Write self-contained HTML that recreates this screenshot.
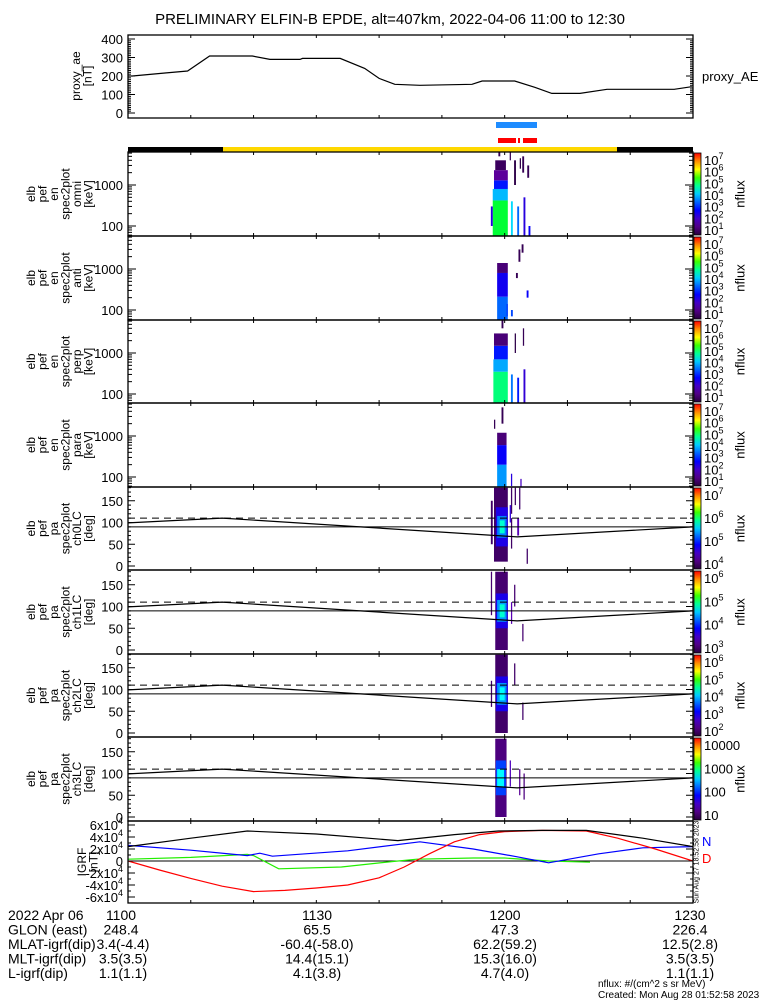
<!DOCTYPE html>
<html><head><meta charset="utf-8"><style>
html,body{margin:0;padding:0;background:#fff;}
svg{display:block;font-family:"Liberation Sans",sans-serif;}
</style></head><body>
<svg id="c" width="775" height="1000" viewBox="0 0 775 1000" xmlns="http://www.w3.org/2000/svg">
<rect x="0" y="0" width="775" height="1000" fill="#fff"/>
<text x="390" y="24" font-size="15" text-anchor="middle">PRELIMINARY ELFIN-B EPDE, alt=407km, 2022-04-06 11:00 to 12:30</text>
</svg>
<script>
// ---- data ----
const aeT=[0,0.7,5.9,9.5,13,19.8,22.6,27.4,27.8,33.8,37.7,40,42.5,46.5,54.8,56.4,61.6,64.8,67.5,72,76.3,87,89.8];
const aeV=[200,200,216,227,308,308,290,290,295,295,241,187,155,150,155,173,173,139,106,106,128,128,142];
const bkT=[0,10,19,30,43,52,59,66,73,82,90];
const bkV=[2.4,3.8,5.0,4.5,3.4,4.4,5.0,5.1,5.1,3.8,2.4];
const rdT=[0,5,10,15,20,25,30,35,40,44,48,52,56,60,66,73,78,84,90];
const rdV=[0,-1.5,-2.9,-4.2,-5.1,-4.9,-4.5,-4.0,-2.8,-1.0,1.2,3.2,4.4,4.9,5.1,5.0,3.8,2.0,0];
const blT=[0,10,19,21,23,35,46.5,55,62,67,75,82,90];
const blV=[2.6,1.8,0.9,1.3,0.8,1.7,3.2,2.0,0.7,-0.3,1.2,2.2,2.4];
const gnT=[0,10,19,20,24,34,42,46,55,60,67,73.6];
const gnV=[0.3,0.6,1.1,0.9,-1.3,-1.0,-0.1,0.3,0.5,0.5,0,-0.2];
const lcT=[0,15,62,90];
const lcV=[99,110,67,90];
const dashPA=110, flatPA=90;
// spectrogram cells: [t0,t1,low,high,logFlux]
const omniCells=[[58.1,60.5,55,420,5.0],[58.1,60.5,420,800,4.0],[58.3,60.5,800,1300,3.0],[58.3,60.5,1300,2300,1.8],[58.5,60.2,2300,4000,1.3],[61,61.3,55,400,4.2],[62,62.3,55,300,3.5],[63,63.3,55,500,2.5],[63.6,63.9,1500,3000,1.2],[57.8,58.1,100,300,2.5],[61.5,61.8,1000,4000,1.1],[62.8,63.1,2000,5000,1.2],[59,59.3,5000,7000,1.2],[63.8,64.1,55,100,2.8],[60.8,61,4000,7000,1.2],[62.4,62.6,2500,4500,1.1]];
const antiCells=[[58.8,60.5,800,1400,1.5],[58.8,60.5,210,800,2.7],[58.8,60.5,55,210,3.5],[61,61.3,70,100,3.3],[62.2,62.5,1500,3000,1.2],[62.7,63,2500,4000,1.2],[61.8,62.1,600,800,1.2],[63.5,63.8,200,300,2.8],[60.3,60.5,70,140,3.2]];
const perpCells=[[58.2,60.5,55,350,4.8],[58.2,60.5,350,700,3.9],[58.3,60.5,700,1500,3.0],[58.3,60.5,1500,3000,1.5],[61,61.3,55,300,3.6],[62,62.3,55,250,3.0],[63,63.3,60,400,2.4],[61.6,61.8,1000,3000,1.1],[62.9,63.1,1500,4000,1.2],[59.5,59.8,4000,7000,1.2]];
const paraCells=[[58.8,60.3,55,200,3.8],[58.8,60.3,200,600,2.8],[58.8,60.3,600,1200,1.5],[59.5,59.8,2000,5000,1.2],[58.3,58.5,1500,2500,1.2],[61,61.2,60,120,2.5],[62.5,62.7,55,90,2.2]];
const pa0Cells=[[58.3,60.5,10,180,3.9],[58.6,60.5,45,135,4.6],[58.8,60.3,65,115,5.2],[59.2,60.0,75,105,5.7],[61,61.2,120,180,3.9],[61.6,61.8,140,180,3.9],[62.3,62.5,130,180,3.9],[61,61.2,40,110,3.9],[62,62.3,70,110,4.3],[63.5,63.7,5,40,3.9],[57.8,58.1,50,150,3.9],[60.8,61,100,140,4.5]];
const pa1Cells=[[58.5,60.5,0,180,2.8],[58.6,60.5,50,130,3.6],[58.8,60.3,65,115,4.4],[59.2,60,75,105,4.9],[57.8,58,80,180,2.8],[61.5,61.7,100,150,2.8],[62.8,63,20,60,2.8],[61,61.2,60,110,3.2]];
const pa2Cells=[[58.5,60.5,0,180,2.0],[58.6,60.5,50,130,3.0],[58.8,60.3,65,115,3.9],[59.2,60,75,105,4.4],[57.8,58,60,120,2.0],[61.5,61.7,110,160,2.0],[62.8,63,30,70,2.0]];
const pa3Cells=[[58.5,60.3,0,180,1.3],[58.6,60.2,50,130,2.2],[58.8,59.9,70,110,2.8],[60.8,61,70,130,1.6],[62.3,62.5,50,110,1.4],[63,63.2,40,100,1.3]];
// footer
const ftLabels=['2022 Apr 06','GLON (east)','MLAT-igrf(dip)','MLT-igrf(dip)','L-igrf(dip)'];
const ftTimes=['1100','1130','1200','1230'];
const ftVals=[['248.4','65.5','47.3','226.4'],['3.4(-4.4)','-60.4(-58.0)','62.2(59.2)','12.5(2.8)'],['3.5(3.5)','14.4(15.1)','15.3(16.0)','3.5(3.5)'],['1.1(1.1)','4.1(3.8)','4.7(4.0)','1.1(1.1)']];

// ---- helpers ----
const svg=document.getElementById('c');
const NS='http://www.w3.org/2000/svg';
const X0=128,X1=693;
const tx=t=>X0+t*(X1-X0)/90;
function mk(tag,at,parent){const e=document.createElementNS(NS,tag);for(const k in at)e.setAttribute(k,at[k]);(parent||svg).appendChild(e);return e;}
function cmap(f){f=Math.max(0,Math.min(1,f));
 const s=[[0,40,0,60],[0.15,100,0,170],[0.3,0,0,255],[0.45,0,150,255],[0.55,0,255,255],[0.67,0,255,0],[0.8,255,255,0],[0.9,255,140,0],[1,255,0,0]];
 for(let i=1;i<s.length;i++){if(f<=s[i][0]){const a=s[i-1],b=s[i],u=(f-a[0])/(b[0]-a[0]);return `rgb(${Math.round(a[1]+u*(b[1]-a[1]))},${Math.round(a[2]+u*(b[2]-a[2]))},${Math.round(a[3]+u*(b[3]-a[3]))})`;}}return 'red';}
function poly(T,V,fx,fy,color,name,dash,parent){
 let d='';for(let i=0;i<T.length;i++)d+=(i?'L':'M')+fx(T[i]).toFixed(1)+','+fy(V[i]).toFixed(1);
 const p=mk('path',{d:d,fill:'none',stroke:color,'stroke-width':1.2},parent);
 if(dash)p.setAttribute('stroke-dasharray',dash);
 
 return p;}
function rotLabel(lines,x0,cy,name){
 const g=mk('g',{});
 
 
 lines.forEach((s,i)=>{const x=x0+i*11.5;mk('text',{x:x,y:cy,'font-size':12,'text-anchor':'middle',transform:`rotate(-90 ${x} ${cy})`,'dominant-baseline':'central'},g).textContent=s;});}
function box(top,bot,name){const r=mk('rect',{x:X0,y:top,width:X1-X0,height:bot-top,fill:'none',stroke:'#000','stroke-width':1.3});
 
 
 for(let t=10;t<90;t+=10){mk('line',{x1:tx(t),x2:tx(t),y1:bot,y2:bot-3,stroke:'#000'});mk('line',{x1:tx(t),x2:tx(t),y1:top,y2:top+3,stroke:'#000'});}}
function ytick(y,len){mk('line',{x1:X0,x2:X0+len,y1:y,y2:y,stroke:'#000'});mk('line',{x1:X1,x2:X1-len,y1:y,y2:y,stroke:'#000'});}

// ---- top AE panel ----
const aeY=v=>113-v*0.185;
for(let v=0;v<=400;v+=10)ytick(aeY(v),v%100?3:7);
[0,100,200,300,400].forEach(v=>{const t=mk('text',{x:123,y:aeY(v)+5,'font-size':13,'text-anchor':'end'});t.textContent=v;});
box(35,118,'proxy-ae-panel');
poly(aeT,aeV,tx,aeY,'#000','proxy-ae-line');
rotLabel(['proxy_ae','[nT]'],76,76,'ae-y-axis-title');
const pae=mk('text',{x:702,y:81,'font-size':13});pae.textContent='proxy_AE';



// bars
const bb=mk('rect',{x:496,y:122,width:41,height:6,fill:'#1e8cff'});


[[498,516],[518,520],[523,537]].forEach(s=>{const r=mk('rect',{x:s[0],y:138,width:s[1]-s[0],height:5,fill:'#ff0000'});});
const k1=mk('rect',{x:128,y:147,width:95,height:5,fill:'#000'});
const yb=mk('rect',{x:223,y:147,width:394,height:5,fill:'#ffd800'});
const k2=mk('rect',{x:617,y:147,width:76,height:5,fill:'#000'});

// ---- spectrogram panels ----
const tops=[152,236,320,403,487,570,654,737,821];
const panels=[
 {type:'en',cells:omniCells,nm:'omni',min:1,max:7.2,cb:['7','6','5','4','3','2','1']},
 {type:'en',cells:antiCells,nm:'anti',min:1,max:7.2,cb:['7','6','5','4','3','2','1']},
 {type:'en',cells:perpCells,nm:'perp',min:1,max:7.2,cb:['7','6','5','4','3','2','1']},
 {type:'en',cells:paraCells,nm:'para',min:1,max:7.2,cb:['7','6','5','4','3','2','1']},
 {type:'pa',cells:pa0Cells,nm:'ch0LC',min:3.7,max:7.2,cb:['7','6','5','4']},
 {type:'pa',cells:pa1Cells,nm:'ch1LC',min:2.5,max:6.7,cb:['6','5','4','3']},
 {type:'pa',cells:pa2Cells,nm:'ch2LC',min:1.7,max:6.6,cb:['6','5','4','3','2']},
 {type:'pa',cells:pa3Cells,nm:'ch3LC',min:1,max:4.3,cb:['10000','1000','100','10'],plain:true}];
const defs=mk('defs',{});
panels.forEach((p,i)=>{
 const top=tops[i],bot=tops[i+1];
 const cp=mk('clipPath',{id:'cp'+i},defs);mk('rect',{x:X0,y:top,width:X1-X0,height:bot-top},cp);
 const g=mk('g',{'clip-path':`url(#cp${i})`});
 
 
 const fy=p.type==='en'?(e=>top+33-(Math.log10(e)-3)*41):(a=>bot-4-a*0.435);
 p.cells.forEach(c=>{const y1=fy(c[3]),y2=fy(c[2]);
  const r=mk('rect',{x:tx(c[0]),y:y1,width:tx(c[1])-tx(c[0]),height:y2-y1,fill:cmap((c[4]-p.min)/(p.max-p.min))},g);
  
  });
 if(p.type==='en'){
  for(let d=1;d<=3;d++)for(let m=1;m<10;m++){const y=fy(m*Math.pow(10,d));if(y>top&&y<bot)ytick(y,m===1?8:4);}
  [[1000,'1000'],[100,'100']].forEach(q=>{const t=mk('text',{x:123,y:fy(q[0])+5,'font-size':13,'text-anchor':'end'});t.textContent=q[1];});
  rotLabel(['elb','pef','en','spec2plot',p.nm,'[keV]'],31,(top+bot)/2,'y-axis-title-'+p.nm);
 } else {
  for(let a=0;a<=180;a+=10)ytick(fy(a),a%50?3:7);
  [0,50,100,150].forEach(a=>{const t=mk('text',{x:123,y:fy(a)+5,'font-size':13,'text-anchor':'end'});t.textContent=a;});
  const dl=mk('line',{x1:X0,x2:X1,y1:fy(dashPA),y2:fy(dashPA),stroke:'#000','stroke-dasharray':'7,5'});
  
  const fl=mk('line',{x1:X0,x2:X1,y1:fy(flatPA),y2:fy(flatPA),stroke:'#000'});
  
  poly(lcT,lcV,tx,fy,'#000','loss-cone-line',null,g);
  rotLabel(['elb','pef','pa','spec2plot',p.nm,'[deg]'],31,(top+bot)/2,'y-axis-title-'+p.nm);
 }
 box(top,bot,'panel-'+p.nm);
 // colorbar
 const gid='cg'+i;const lg=mk('linearGradient',{id:gid,x1:0,y1:1,x2:0,y2:0},defs);
 for(let k=0;k<=10;k++)mk('stop',{offset:k/10,'stop-color':cmap(k/10)},lg);
 const cb=mk('rect',{x:694,y:top+1,width:7,height:bot-top-2,fill:`url(#${gid})`,stroke:'#000','stroke-width':0.8});
 
 
 const n=p.cb.length;
 p.cb.forEach((s,k)=>{const y=top+9+k*(bot-top-14)/(n-1);
  const t=mk('text',{x:704,y:y+4,'font-size':13});
  if(p.plain)t.textContent=s;else{t.textContent='10';const sp=mk('tspan',{dy:-6,'font-size':9},t);sp.textContent=s;}
  });
 const cy=(top+bot)/2,nx=740;
 const nf=mk('text',{x:nx,y:cy,'font-size':13,'text-anchor':'middle','dominant-baseline':'central',transform:`rotate(-90 ${nx} ${cy})`});nf.textContent='nflux';
 
});

// ---- IGRF panel ----
const iY=v=>861-v*6;
const cpI=mk('clipPath',{id:'cpI'},defs);mk('rect',{x:X0,y:821,width:X1-X0,height:82},cpI);
const gI=mk('g',{'clip-path':'url(#cpI)'});


for(let v=-6;v<=6;v+=1)ytick(iY(v),v%2?3:7);
mk('line',{x1:X0,x2:X1,y1:iY(0),y2:iY(0),stroke:'#000'},gI);
poly(gnT,gnV,tx,iY,'#22ee00','igrf-green-line',null,gI);
poly(blT,blV,tx,iY,'#0000ff','igrf-n-line',null,gI);
poly(rdT,rdV,tx,iY,'#ff0000','igrf-d-line',null,gI);
poly(bkT,bkV,tx,iY,'#000','igrf-total-line',null,gI);
[6,4,2,0,-2,-4,-6].forEach(v=>{const t=mk('text',{x:123,y:iY(v)+5,'font-size':13,'text-anchor':'end'});
 if(v===0)t.textContent='0';else{t.textContent=v+'x10';const sp=mk('tspan',{dy:-6,'font-size':9},t);sp.textContent='4';}
 });
box(821,903,'igrf-panel');
rotLabel(['IGRF','[nT]'],82,862,'igrf-y-axis-title');
const tn=mk('text',{x:702,y:846,'font-size':13,fill:'#0000ff'});tn.textContent='N';
const td=mk('text',{x:702,y:863,'font-size':13,fill:'#ff0000'});td.textContent='D';
const st=mk('text',{x:697,y:862,'font-size':7,'text-anchor':'middle','dominant-baseline':'central',transform:'rotate(-90 697 862)'});st.textContent='Sun Aug 27 18:52:58 2023';


// ---- footer ----
const rows=[920,934.5,949,963.5,978];
ftLabels.forEach((s,r)=>{const t=mk('text',{x:8,y:rows[r],'font-size':14});t.textContent=s;});
const cx=[121,317,505,690];
ftTimes.forEach((s,c)=>{const t=mk('text',{x:cx[c],y:rows[0],'font-size':14,'text-anchor':'middle'});t.textContent=s;});
ftVals.forEach((row,r)=>row.forEach((s,c)=>{const t=mk('text',{x:c===0&&r>0?123:cx[c],y:rows[r+1],'font-size':14,'text-anchor':'middle'});t.textContent=s;}));
const n1=mk('text',{x:598,y:987,'font-size':10});n1.textContent='nflux: #/(cm^2 s sr MeV)';
const n2=mk('text',{x:598,y:998,'font-size':10});n2.textContent='Created: Mon Aug 28 01:52:58 2023';
</script>
</body></html>
